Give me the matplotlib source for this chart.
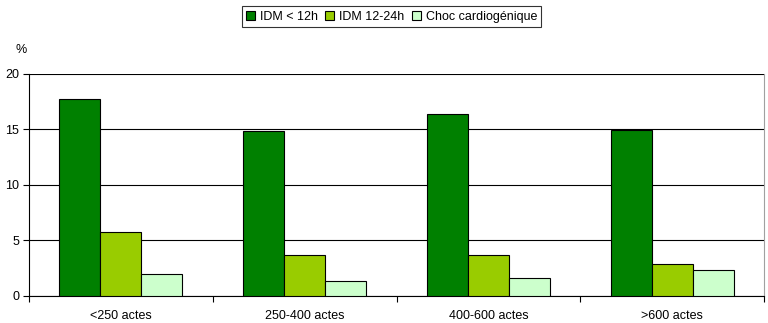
import matplotlib.pyplot as plt
import matplotlib.patches as mpatches
import numpy as np

categories = ["<250 actes", "250-400 actes", "400-600 actes", ">600 actes"]
series_names = ["IDM < 12h", "IDM 12-24h", "Choc cardiogénique"]
idm_lt12 = [17.75, 14.85, 16.4, 14.95]
idm_12_24 = [5.8, 3.7, 3.7, 2.9]
choc = [2.0, 1.35, 1.6, 2.35]
y_ticks = [0, 5, 10, 15, 20]

COLORS = ["#008000", "#99cc00", "#ccffcc"]

plt.rcParams["font.family"] = ["Liberation Sans", "DejaVu Sans"]

fig = plt.figure(figsize=(7.68, 3.23), dpi=100)
ax = fig.add_axes([0.0378, 0.0836, 0.9570, 0.6873])

x = np.arange(len(categories))
width = 0.223
for i, (vals, color) in enumerate(zip([idm_lt12, idm_12_24, choc], COLORS)):
    ax.bar(x + (i - 1) * width, vals, width, color=color, edgecolor="black",
           linewidth=0.8, zorder=3, label=series_names[i])

ax.set_xlim(-0.5, len(categories) - 0.5)
ax.set_ylim(0, 20)
ax.set_yticks(y_ticks)
ax.set_yticklabels([str(t) for t in y_ticks], fontsize=9)
ax.yaxis.grid(True, color="black", linewidth=0.8, zorder=0)

ax.set_xticks(x)
ax.set_xticklabels(categories, fontsize=9)
ax.tick_params(axis="x", length=0, pad=10)
ax.set_xticks(np.arange(-0.5, len(categories)), minor=True)
ax.tick_params(axis="x", which="minor", length=4, direction="out", width=0.8)
ax.tick_params(axis="y", length=4, direction="out", width=0.8, pad=3)

ax.spines["top"].set_visible(False)
ax.spines["right"].set_color("#a0a0a0")
ax.spines["left"].set_linewidth(0.8)
ax.spines["bottom"].set_linewidth(0.8)

fig.text(0.020, 0.845, "%", fontsize=9, ha="left", va="center")

handles = [mpatches.Patch(facecolor=c, edgecolor="black", linewidth=0.8, label=n)
           for c, n in zip(COLORS, series_names)]
leg = fig.legend(handles=handles, loc="upper center", bbox_to_anchor=(0.51, 0.98),
                 ncol=3, fontsize=9, frameon=True, fancybox=False,
                 edgecolor="black", handlelength=0.7, handleheight=0.7,
                 handletextpad=0.4, columnspacing=0.6, borderpad=0.35,
                 borderaxespad=0)
leg.get_frame().set_linewidth(0.8)

fig.savefig("out.png", dpi=100)
